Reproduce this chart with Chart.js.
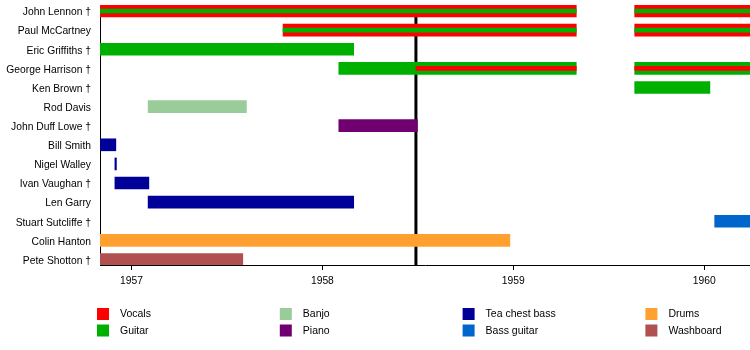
<!DOCTYPE html>
<html><head><meta charset="utf-8">
<script src="https://cdn.jsdelivr.net/npm/chart.js@4"></script>
<style>html,body{margin:0;padding:0;background:#fff}</style>
</head><body>
<canvas id="c" width="750" height="350"></canvas>
<script>
const members = ["John Lennon †","Paul McCartney","Eric Griffiths †","George Harrison †","Ken Brown †","Rod Davis","John Duff Lowe †","Bill Smith","Nigel Walley","Ivan Vaughan †","Len Garry","Stuart Sutcliffe †","Colin Hanton","Pete Shotton †"];
const tickYears = [1957, 1958, 1959, 1960];
const xMin = 1956.835, xMax = 1960.24;
const markerYear = 1958.49;

// [member, start year, end year]
const vocals = [["John Lennon †",1956.835,1959.33],["John Lennon †",1959.636,1960.24],["Paul McCartney",1957.794,1959.33],["Paul McCartney",1959.636,1960.24]];
const vocalsStripe = [["George Harrison †",1958.49,1959.33],["George Harrison †",1959.636,1960.24]];
const guitar = [["Eric Griffiths †",1956.835,1958.164],["George Harrison †",1958.086,1959.33],["George Harrison †",1959.636,1960.24],["Ken Brown †",1959.636,1960.03]];
const guitarStripe = [["John Lennon †",1956.835,1959.33],["John Lennon †",1959.636,1960.24],["Paul McCartney",1957.794,1959.33],["Paul McCartney",1959.636,1960.24]];
const banjo = [["Rod Davis",1957.087,1957.602]];
const piano = [["John Duff Lowe †",1958.086,1958.498]];
const teaChestBass = [["Bill Smith",1956.835,1956.918],["Nigel Walley",1956.913,1956.921],["Ivan Vaughan †",1956.913,1957.091],["Len Garry",1957.087,1958.164]];
const bassGuitar = [["Stuart Sutcliffe †",1960.055,1960.24]];
const drums = [["Colin Hanton",1956.835,1958.982]];
const washboard = [["Pete Shotton †",1956.835,1957.583]];

const legendNames = ["Vocals","Guitar","Banjo","Piano","Tea chest bass","Bass guitar","Drums","Washboard"];
const legendColors = ["#ff0000","#00b000","#99cc99","#700070","#000099","#0066cc","#ffa030","#b05050"];
const col = n => legendColors[legendNames.indexOf(n)];

function ds(label, rows, color, thick) {
  return {
    label, backgroundColor: color, barThickness: thick, grouped: false,
    borderWidth: 0, borderSkipped: false,
    data: rows.map(r => ({ x: [r[1], r[2]], y: members.indexOf(r[0]) }))
  };
}

const datasets = [
  ds("Vocals", vocalsStripe, col("Vocals"), 4),
  ds("Guitar", guitarStripe, col("Guitar"), 4),
  ds("Vocals", vocals, col("Vocals"), 12),
  ds("Guitar", guitar, col("Guitar"), 12),
  ds("Banjo", banjo, col("Banjo"), 12),
  ds("Piano", piano, col("Piano"), 12),
  ds("Tea chest bass", teaChestBass, col("Tea chest bass"), 12),
  ds("Bass guitar", bassGuitar, col("Bass guitar"), 12),
  ds("Drums", drums, col("Drums"), 12),
  ds("Washboard", washboard, col("Washboard"), 12)
];

const FONT = "'Liberation Sans', Arial, sans-serif";

const markerPlugin = {
  id: 'marker',
  beforeDatasetsDraw(chart) {
    const {ctx, chartArea, scales} = chart;
    const x = scales.x.getPixelForValue(markerYear);
    ctx.save();
    ctx.strokeStyle = '#000';
    ctx.lineWidth = 3;
    ctx.beginPath();
    ctx.moveTo(x, chartArea.top);
    ctx.lineTo(x, chartArea.bottom);
    ctx.stroke();
    ctx.restore();
  }
};

const legendPlugin = {
  id: 'customLegend',
  afterDraw(chart) {
    const ctx = chart.ctx;
    ctx.save();
    ctx.font = "10.5px " + FONT;
    ctx.textBaseline = 'middle';
    ctx.textAlign = 'left';
    legendNames.forEach((name, i) => {
      const c = Math.floor(i / 2), r = i % 2;
      const x = 97 + c * 182.8;
      const y = 308 + r * 16.5;
      ctx.fillStyle = legendColors[i];
      ctx.fillRect(x, y, 12, 12);
      ctx.fillStyle = '#000';
      ctx.fillText(name, x + 23, y + 6.5);
    });
    ctx.restore();
  }
};

new Chart(document.getElementById('c'), {
  type: 'bar',
  data: { datasets },
  plugins: [markerPlugin, legendPlugin],
  options: {
    indexAxis: 'y',
    responsive: false,
    animation: false,
    devicePixelRatio: 1,
    layout: { padding: { top: 5, right: 0, left: 0, bottom: 0 } },
    plugins: { legend: { display: false }, tooltip: { enabled: false } },
    scales: {
      x: {
        type: 'linear', position: 'bottom', min: xMin, max: xMax, offset: false,
        grid: { drawOnChartArea: false, drawTicks: true, tickLength: 5, color: '#000', lineWidth: 1 },
        border: { display: true, color: '#000', width: 1 },
        ticks: { padding: 5, color: '#000', font: { family: FONT, size: 10.3 }, autoSkip: false, maxRotation: 0, callback: v => String(v) },
        afterBuildTicks: s => { s.ticks = tickYears.map(v => ({ value: v })); },
        afterFit: s => { s.height = 85; s.paddingLeft = 0; s.paddingRight = 0; }
      },
      y: {
        type: 'linear', reverse: true, min: -0.314, max: 13.288, offset: false,
        grid: { display: false, drawTicks: false, offset: false },
        border: { display: true, color: '#000', width: 1 },
        ticks: { padding: 9, labelOffset: 1.5, color: '#000', font: { family: FONT, size: 10.3 }, autoSkip: false, callback: v => members[v] ?? '' },
        afterBuildTicks: s => { s.ticks = members.map((m, i) => ({ value: i })); },
        afterFit: s => { s.width = 100; s.paddingTop = 0; s.paddingBottom = 0; }
      }
    }
  }
});
</script>
</body></html>
